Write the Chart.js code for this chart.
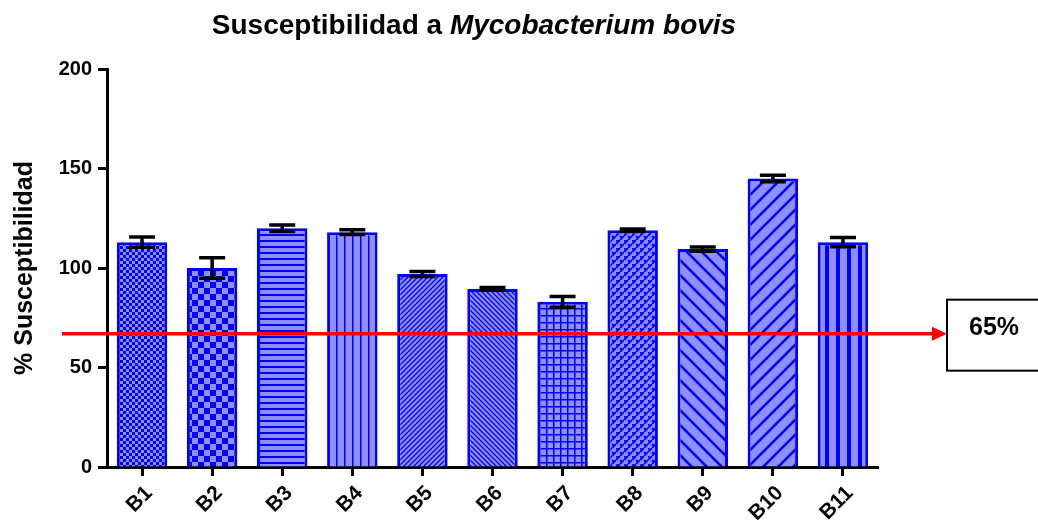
<!DOCTYPE html>
<html lang="es">
<head>
    <meta charset="UTF-8">
    <title>Susceptibilidad a Mycobacterium bovis</title>
    <script src="https://cdn.jsdelivr.net/npm/chart.js"></script>
    <style>
        * { margin: 0; padding: 0; box-sizing: border-box; }
        body { background: #fff; width: 1038px; height: 524px; overflow: hidden; }
        canvas { display: block; }
    </style>
</head>
<body>
    <canvas id="susChart" width="1038" height="524"></canvas>

    <script>
        // Data
        const labels = ['B1', 'B2', 'B3', 'B4', 'B5', 'B6', 'B7', 'B8', 'B9', 'B10', 'B11'];
        const means = [113, 100, 120, 118, 97, 89.5, 83, 119, 109.5, 145, 113];
        const errors = [2.6, 5.2, 1.6, 1.2, 1.3, 0.7, 2.7, 0.6, 1.1, 1.6, 2.3];
        const yTicks = [0, 50, 100, 150, 200];
        const cutoffValue = 67;
        const cutoffLabel = '65%';

        const FILL = '#8f8fff';
        const INK = '#0000ff';
        const FONT = 'Arial, "Liberation Sans", sans-serif';

        // small tile -> CanvasPattern
        function makePattern(w, h, draw) {
            const c = document.createElement('canvas');
            c.width = w;
            c.height = h;
            const g = c.getContext('2d');
            g.fillStyle = FILL;
            g.fillRect(0, 0, w, h);
            g.fillStyle = INK;
            g.strokeStyle = INK;
            draw(g, w, h);
            return g.createPattern(c, 'repeat');
        }

        function checker(s) {
            return makePattern(s * 2, s * 2, g => {
                g.fillRect(0, 0, s, s);
                g.fillRect(s, s, s, s);
            });
        }

        function diagonal(s, width, up) {
            return makePattern(s, s, g => {
                g.lineWidth = width;
                g.beginPath();
                if (up) {
                    g.moveTo(-1, s + 1); g.lineTo(s + 1, -1);
                    g.moveTo(-s / 2 - 1, s / 2 + 1); g.lineTo(s / 2 + 1, -s / 2 - 1);
                    g.moveTo(s / 2 - 1, s * 1.5 + 1); g.lineTo(s * 1.5 + 1, s / 2 - 1);
                } else {
                    g.moveTo(-1, -1); g.lineTo(s + 1, s + 1);
                    g.moveTo(-s / 2 - 1, s / 2 - 1); g.lineTo(s / 2 + 1, s * 1.5 + 1);
                    g.moveTo(s / 2 - 1, -s / 2 - 1); g.lineTo(s * 1.5 + 1, s / 2 + 1);
                }
                g.stroke();
            });
        }

        const patterns = [
            checker(3),
            checker(6),
            makePattern(6, 6, g => g.fillRect(0, 0, 6, 2)),
            makePattern(8, 8, g => g.fillRect(0, 0, 1.5, 8)),
            diagonal(5, 1.3, true),
            diagonal(5, 1.3, false),
            makePattern(7, 7, g => { g.fillRect(0, 0, 7, 1.5); g.fillRect(0, 0, 1.5, 7); }),
            makePattern(8, 8, g => {
                g.lineWidth = 1.8;
                g.beginPath();
                g.moveTo(0, 4); g.lineTo(4, 0);
                g.moveTo(4, 8); g.lineTo(8, 4);
                g.moveTo(4, 4); g.lineTo(6, 6);
                g.moveTo(0, 0); g.lineTo(2, 2);
                g.stroke();
            }),
            diagonal(15, 2.6, false),
            diagonal(15, 2.6, true),
            makePattern(11, 11, g => g.fillRect(0, 0, 4, 11))
        ];

        // bold title with italic species name
        const titlePlugin = {
            id: 'mixedTitle',
            afterDraw(chart) {
                const ctx = chart.ctx;
                const a = 'Susceptibilidad a ';
                const b = 'Mycobacterium bovis';
                ctx.save();
                ctx.fillStyle = '#000';
                ctx.textBaseline = 'alphabetic';
                ctx.font = 'bold 28px ' + FONT;
                const wa = ctx.measureText(a).width;
                ctx.font = 'italic bold 28px ' + FONT;
                const wb = ctx.measureText(b).width;
                const x0 = 474 - (wa + wb) / 2;
                ctx.font = 'bold 28px ' + FONT;
                ctx.fillText(a, x0, 34);
                ctx.font = 'italic bold 28px ' + FONT;
                ctx.fillText(b, x0 + wa, 34);
                ctx.restore();
            }
        };

        const errorBarPlugin = {
            id: 'errorBars',
            afterDatasetsDraw(chart) {
                const ctx = chart.ctx;
                const y = chart.scales.y;
                const meta = chart.getDatasetMeta(0);
                ctx.save();
                ctx.strokeStyle = '#000';
                ctx.lineWidth = 3.5;
                meta.data.forEach((bar, i) => {
                    const top = y.getPixelForValue(means[i] + errors[i]);
                    const bot = y.getPixelForValue(means[i] - errors[i]);
                    ctx.beginPath();
                    ctx.moveTo(bar.x, top); ctx.lineTo(bar.x, bot);
                    ctx.moveTo(bar.x - 13, top); ctx.lineTo(bar.x + 13, top);
                    ctx.moveTo(bar.x - 13, bot); ctx.lineTo(bar.x + 13, bot);
                    ctx.stroke();
                });
                ctx.restore();
            }
        };

        const cutoffPlugin = {
            id: 'cutoff',
            afterDraw(chart) {
                const ctx = chart.ctx;
                const yy = chart.scales.y.getPixelForValue(cutoffValue);
                const tip = 947;
                ctx.save();
                ctx.strokeStyle = '#ff0000';
                ctx.fillStyle = '#ff0000';
                ctx.lineWidth = 3.5;
                ctx.beginPath();
                ctx.moveTo(62, yy);
                ctx.lineTo(tip - 12, yy);
                ctx.stroke();
                ctx.beginPath();
                ctx.moveTo(tip, yy);
                ctx.lineTo(tip - 15, yy - 7);
                ctx.lineTo(tip - 15, yy + 7);
                ctx.closePath();
                ctx.fill();
                // label box
                ctx.strokeStyle = '#000';
                ctx.lineWidth = 2;
                ctx.strokeRect(tip, yy - 34, 120, 71);
                ctx.fillStyle = '#000';
                ctx.font = 'bold 25px ' + FONT;
                ctx.textAlign = 'center';
                ctx.textBaseline = 'middle';
                ctx.fillText(cutoffLabel, 994, yy - 6);
                ctx.restore();
            }
        };

        Chart.defaults.font.family = FONT;
        Chart.defaults.color = '#000';

        const ctx = document.getElementById('susChart').getContext('2d');
        const susChart = new Chart(ctx, {
            type: 'bar',
            data: {
                labels: labels,
                datasets: [{
                    data: means,
                    backgroundColor: patterns,
                    borderColor: INK,
                    borderWidth: 3,
                    categoryPercentage: 1,
                    barPercentage: 0.72
                }]
            },
            options: {
                responsive: false,
                animation: false,
                layout: { padding: { top: 69, right: 160, bottom: 0, left: 0 } },
                scales: {
                    x: {
                        afterFit: s => { s.height = 57; },
                        grid: {
                            offset: false,
                            drawOnChartArea: false,
                            tickLength: 9,
                            tickColor: '#000',
                            tickWidth: 3
                        },
                        border: { color: '#000', width: 3 },
                        ticks: {
                            font: { size: 21, weight: 'bold' },
                            minRotation: 45,
                            maxRotation: 45,
                            padding: 5,
                            labelOffset: 7
                        }
                    },
                    y: {
                        min: 0,
                        max: 200,
                        afterFit: s => { s.width = 107; },
                        afterBuildTicks: s => { s.ticks = yTicks.map(v => ({ value: v })); },
                        grid: {
                            drawOnChartArea: false,
                            tickLength: 9,
                            tickColor: '#000',
                            tickWidth: 3
                        },
                        border: { color: '#000', width: 3 },
                        ticks: {
                            font: { size: 20, weight: 'bold' },
                            padding: 6
                        },
                        title: {
                            display: true,
                            text: '% Susceptibilidad',
                            font: { size: 25, weight: 'bold' },
                            padding: { top: 10, bottom: 8 }
                        }
                    }
                },
                plugins: {
                    legend: { display: false },
                    tooltip: { enabled: false }
                }
            },
            plugins: [titlePlugin, errorBarPlugin, cutoffPlugin]
        });
    </script>
</body>
</html>
